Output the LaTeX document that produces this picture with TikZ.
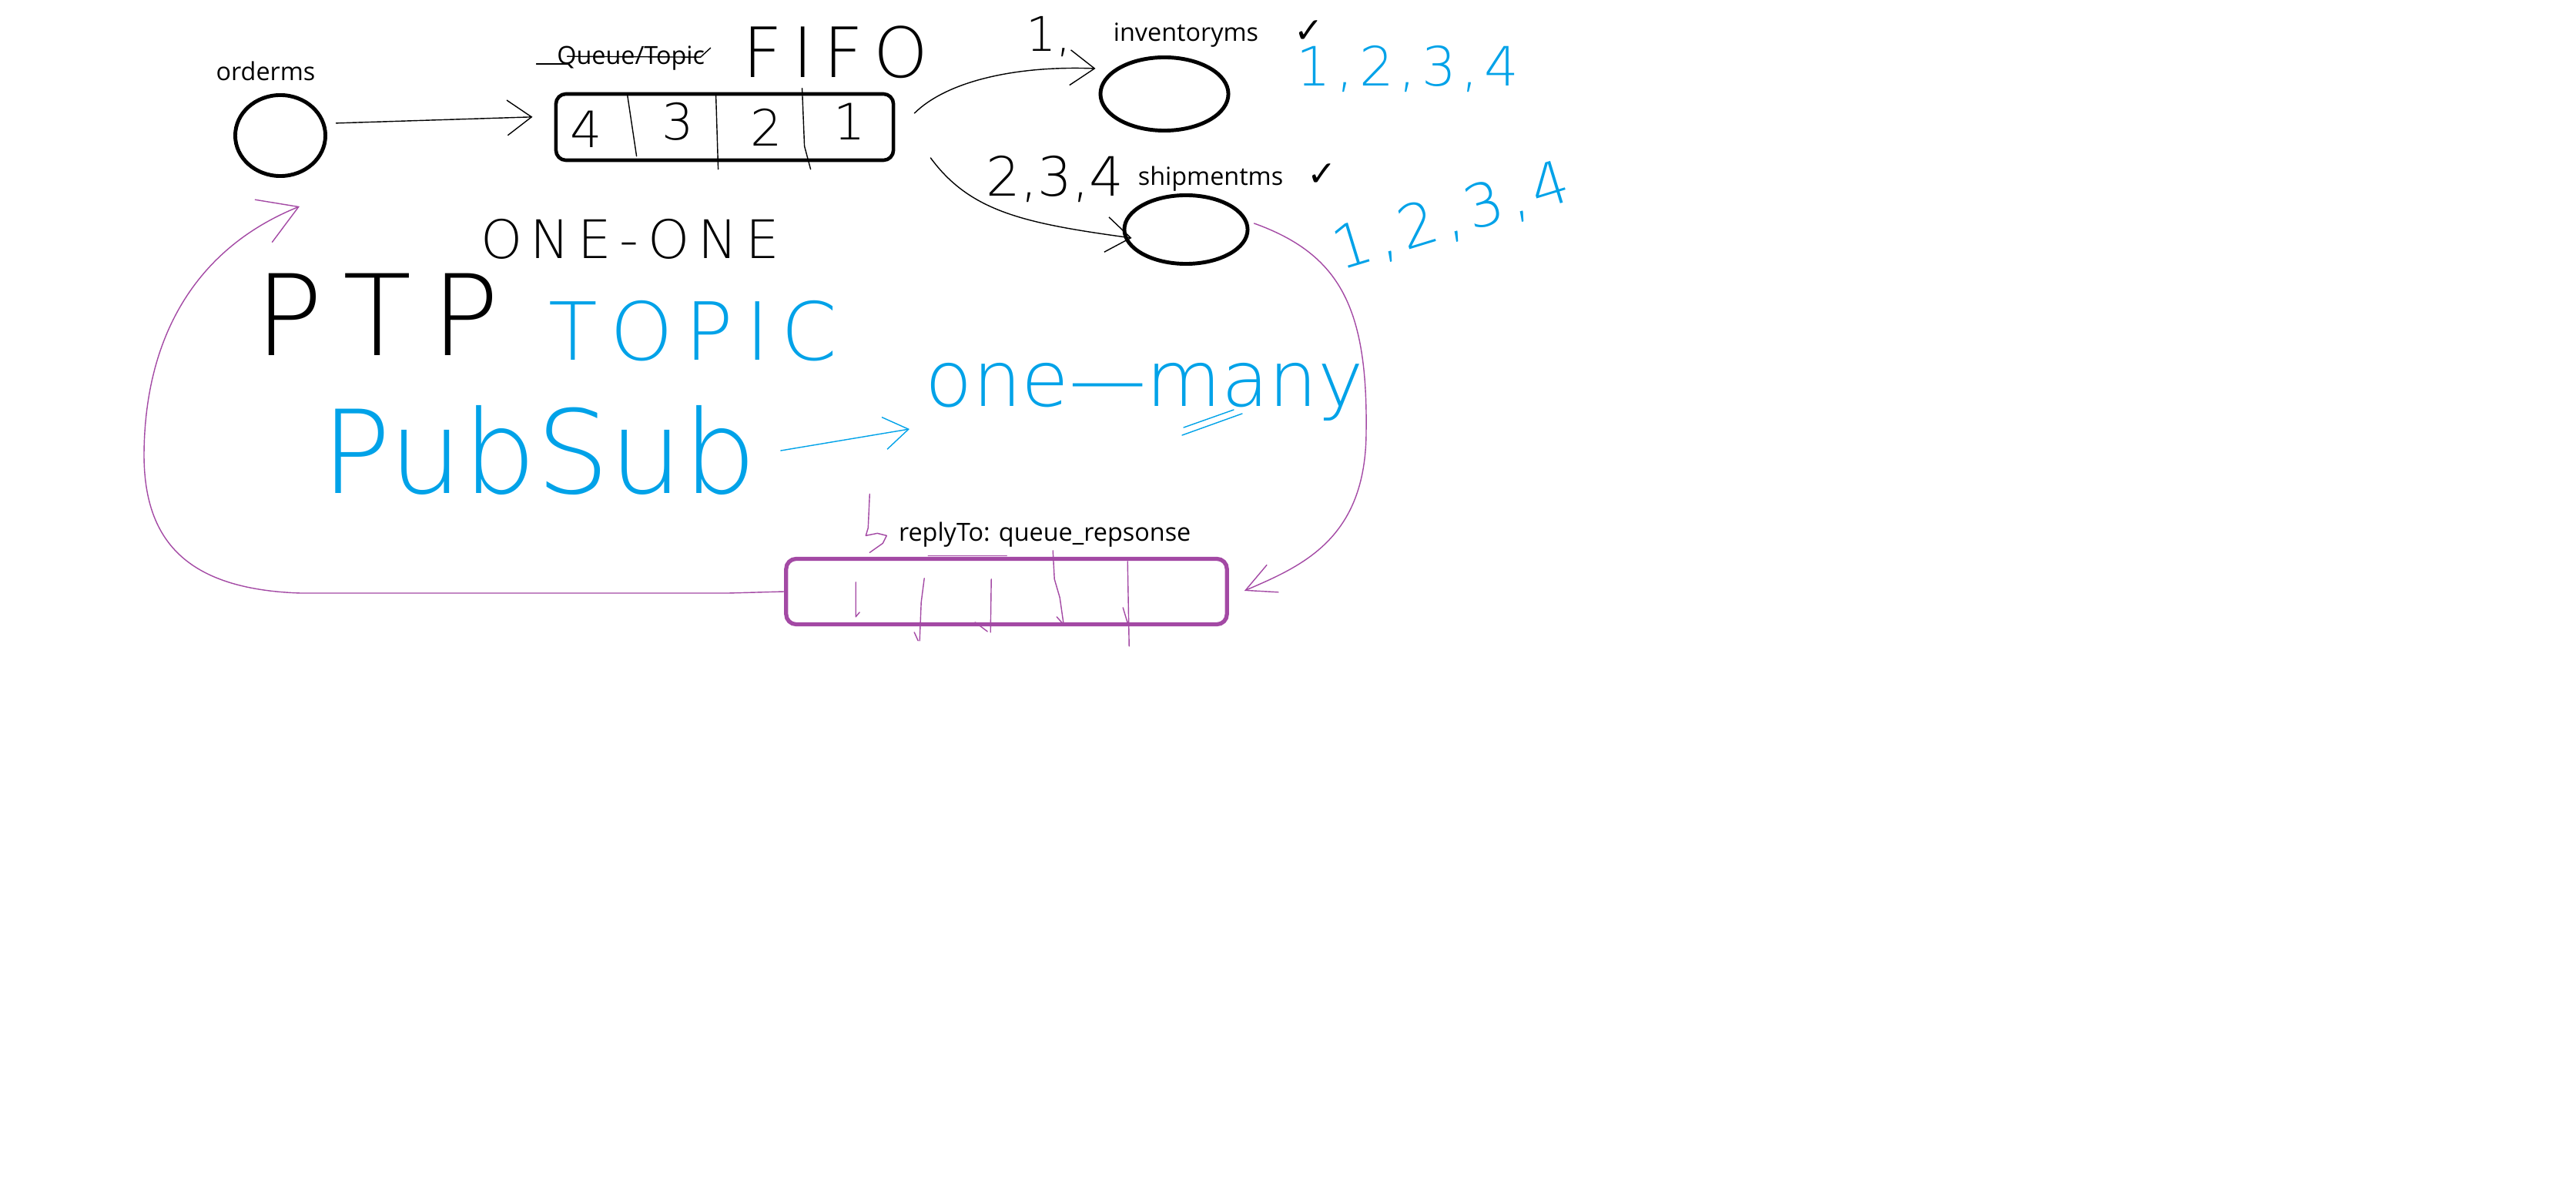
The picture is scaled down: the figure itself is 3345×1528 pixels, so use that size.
\documentclass[tikz,border=0pt]{standalone}
\usepackage{fontspec}
\setmainfont{Open Sans}
\newfontfamily\handfont{DejaVuSans-ExtraLight.ttf}
\newfontfamily\checkfont{DejaVu Sans}
\usetikzlibrary{positioning,shapes.geometric,arrows.meta}
\definecolor{paintpurple}{RGB}{163,73,164}
\definecolor{paintblue}{RGB}{0,162,232}
\tikzset{
  lbl/.style={inner sep=0pt, font=\fontsize{9.2}{11}\selectfont},
  msnode/.style={draw, ellipse, line width=1.4pt, inner sep=0pt},
  qbox/.style={draw, rounded corners=3.7pt, line width=1.3pt, inner sep=0pt},
  hand/.style={line width=0.4pt, line cap=round, line join=round},
  handarrow/.style={hand, -{Straight Barb[length=9pt,width=13pt]}},
  handtext/.style={inner sep=0pt, font={\handfont\fontsize{#1}{#1}\selectfont}},
  tick/.style={inner sep=0pt, font={\checkfont\fontsize{13}{13}\selectfont}}
}
\begin{document}
\begin{tikzpicture}[x=0.01cm, y=-0.01cm]
\useasboundingbox (0,0) rectangle (3345,1528);

\node[msnode, minimum width=1.17cm, minimum height=1.05cm] (orderms) at (364,176) {};
\node[msnode, minimum width=1.66cm, minimum height=0.95cm] (inventoryms) at (1512,122) {};
\node[msnode, minimum width=1.6cm, minimum height=0.89cm] (shipmentms) at (1540,298) {};
\node[qbox, minimum width=4.38cm, minimum height=0.86cm] (queue) at (941,165) {};
\node[qbox, draw=paintpurple, line width=1.5pt, minimum width=5.72cm, minimum height=0.85cm] (replyq) at (1307,768) {};

\node[lbl, above=0.15cm of orderms, xshift=-0.19cm] (ordermslbl) {orderms};
\node[lbl, above=0.1cm of inventoryms, xshift=0.28cm] (inventorylbl) {inventoryms};
\node[lbl, above=0.02cm of shipmentms, xshift=0.32cm] (shipmentlbl) {shipmentms};
\node[lbl, above right=0.28cm and 0.03cm of queue.north west] (queuelbl) {Queue/Topic};
\node[lbl, above right=0.12cm and 1.48cm of replyq.north west] (replylbl) {replyTo: queue\_repsonse};

\draw[hand] ([xshift=-0.26cm]queuelbl.base west) -- ++(40,0);
\draw[hand] ([shift={(14,-10)}]queuelbl.base west) -- ([shift={(-6,-9)}]queuelbl.base east) -- ([shift={(7,-21)}]queuelbl.base east);

\node[handtext=25.6] (fifo) at (1085,68) {\addfontfeature{LetterSpace=15}FIFO};
\node[handtext=19.6] (oneone) at (818,310) {\addfontfeature{LetterSpace=15}ONE-ONE};
\node[handtext=41.5] (ptp) at (490,408) {\addfontfeature{LetterSpace=18}PTP};
\node[handtext=29.6, text=paintblue] (topic) at (900,430) {\addfontfeature{LetterSpace=15}TOPIC};
\node[handtext=42.7, text=paintblue] (pubsub) at (700,585) {PubSub};
\node[handtext=28.5, text=paintblue, anchor=base] (onemany) at (1486,528) {one—many};

\begin{scope}[shift={(queue.north west)}]
  \draw[hand] (95,3) -- (107,83);
  \draw[hand] (210,3) -- (213,100);
  \draw[hand] (322,-5) -- (325,70) -- (333,100);
  \node[handtext=18.5] (q4) at (42,48) {4};
  \node[handtext=18.5] (q3) at (161,38) {3};
  \node[handtext=18.5] (q2) at (276,46) {2};
  \node[handtext=18.5] (q1) at (384,38) {1};
\end{scope}

\draw[handarrow, shorten <=4pt, shorten >=8pt] (orderms.15) -- ([yshift=4pt]queue.west);
\draw[handarrow] ([shift={(25,-18)}]queue.east) .. controls (1230,105) and (1320,85) .. ([shift={(-4,-33)}]inventoryms.west);
\draw[handarrow] ([shift={(46,40)}]queue.east) .. controls (1260,275) and (1330,290) .. ([shift={(12,11)}]shipmentms.west);
\node[handtext=17.6, anchor=base] (one) at (1362,67) {1,};
\node[handtext=20, anchor=base] (twothreefour) at (1370,255) {2,3,4};

\node[tick] (tickinv) at (1700,41) {✓};
\node[tick] (tickship) at (1717,227) {✓};
\node[handtext=20, text=paintblue, anchor=base] (invlist) at (1828,112) {\addfontfeature{LetterSpace=10}1,2,3,4};
\node[handtext=22, text=paintblue, rotate=17] (shiplist) at (1885,282) {\addfontfeature{LetterSpace=10}1,2,3,4};

\draw[hand, paintblue, -{Straight Barb[length=9pt,width=12pt]}] ([xshift=0.31cm]pubsub.east) -- ([shift={(-20,29)}]onemany.base west);
\draw[hand, paintblue] (1537,555) -- (1602,532);
\draw[hand, paintblue] (1535,565) -- (1613,537);

\draw[hand, paintpurple, -{Straight Barb[length=11pt,width=11pt]}] ([shift={(6,-8)}]shipmentms.east) .. controls (1740,330) and (1776,400) .. (1774,560) .. controls (1774,700) and (1690,735) .. ([shift={(20,-1)}]replyq.east);
\coordinate (backtip) at ([shift={(25,37)}]orderms.south);
\draw[hand, paintpurple, -{Straight Barb[length=14pt,width=17pt]}] (replyq.west) -- (946,770) -- (390,770) .. controls (240,765) and (187,700) .. (187,590) .. controls (188,430) and (260,320) .. (backtip);

\draw[hand, paintpurple] ([shift={(-37,-61)}]replylbl.base west) -- ++(-2,44) -- ++(-3,10) -- ++(15,-3) -- ++(12,3) -- ++(-5,10) -- ++(-17,12);
\draw[hand, paintpurple] ([shift={(39,19)}]replylbl.base west) -- ++(102,0);

\begin{scope}[shift={(replyq.north west)}, paintpurple]
  \draw[hand] (93,33) -- (93,78) -- (98,72);
  \draw[hand] (182,28) -- (178,59) -- (176,109) (169,98) -- (174,109);
  \draw[hand] (269,29) -- (268,98) (248,85) -- (264,97);
  \draw[hand] (349,-8) -- (351,29) -- (358,53) -- (363,88) (354,78) -- (363,88);
  \draw[hand] (446,6) -- (448,116) (440,66) -- (446,86);
\end{scope}
\end{tikzpicture}
\end{document}
